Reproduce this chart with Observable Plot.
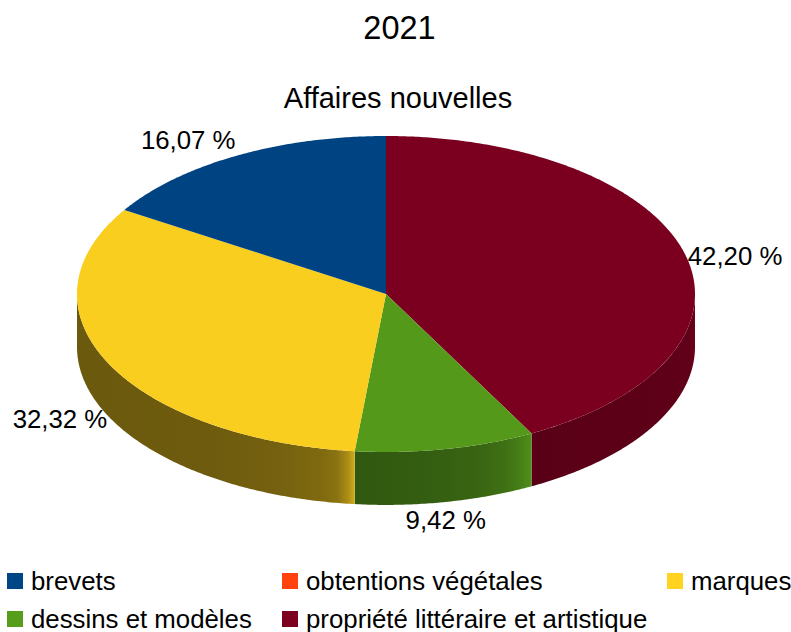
<!DOCTYPE html>
<html lang="fr">
<head>
<meta charset="utf-8">
<title>2021 - Affaires nouvelles</title>
<script src="https://cdn.jsdelivr.net/npm/d3@7"></script>
<script src="https://cdn.jsdelivr.net/npm/@observablehq/plot@0.6"></script>
<style>
  html, body { margin: 0; padding: 0; background: #fff; }
  body { width: 791px; height: 632px; overflow: hidden; font-family: "Liberation Sans", Arial, sans-serif; color: #000; }
  #title { font-size: 32.5px; line-height: 56px; height: 56px; text-align: center; padding-left: 8px; font-weight: 400; margin: 0; }
  #subtitle { font-size: 29px; line-height: 44px; height: 44px; margin: 20px 0 5px 0; text-align: center; padding-left: 5px; font-weight: 400; }
  #chart svg { display: block; }
  #legend { display: grid; grid-template-columns: 275px 385px auto; padding: 5px 0 0 7px; font-size: 25.8px; line-height: 38px; }
  #legend div { display: flex; align-items: center; white-space: nowrap; }
  #legend i { display: block; width: 16px; height: 16px; margin-right: 8px; flex: none; }
</style>
</head>
<body>
<h1 id="title">2021</h1>
<h2 id="subtitle">Affaires nouvelles</h2>
<div id="chart"></div>
<div id="legend"></div>
<script>
// Data, in legend order
const categories = ["brevets", "obtentions végétales", "marques", "dessins et modèles", "propriété littéraire et artistique"];
const shares = [16.07, 0, 32.32, 9.42, 42.20];
const colors = ["#004586", "#ff420e", "#ffd320", "#579d1c", "#7e0021"];

// Styling: label placement and the shading of the pie's rim, by angle in degrees from 12 o'clock
const labelAnchor = {"brevets": "end", "marques": "end", "dessins et modèles": "middle", "propriété littéraire et artistique": "start"};
const topShade = 0.975;
const rimShade = {
  "propriété littéraire et artistique": [[90, 0.87], [100, 0.78], [115, 0.74], [151.9, 0.71]],
  "dessins et modèles": [[151.9, 0.92], [154, 0.82], [157, 0.72], [162, 0.65], [172, 0.6], [185.8, 0.56]],
  "marques": [[185.8, 0.82], [187, 0.68], [189, 0.55], [192, 0.5], [200, 0.46], [215, 0.43], [270, 0.42]]
};
const depth = 0.335; // pie thickness in units of the y radius

const rad = d => d * Math.PI / 180;
const total = d3.sum(shares);
const shade = (c, k) => { const r = d3.rgb(c); return d3.rgb(r.r * k, r.g * k, r.b * k).formatHex(); };

// Slices run clockwise from 12 o'clock, last legend entry first
let a0 = 0;
const slices = categories.map((name, i) => ({name, share: shares[i], color: colors[i], index: i})).reverse()
  .filter(d => d.share > 0)
  .map(d => { const s = {...d, a0, a1: a0 + d.share / total * 360}; a0 = s.a1; return s; });

function arc(from, to, drop) {
  const n = Math.max(2, Math.ceil(Math.abs(to - from) / 0.5)), pts = [];
  for (let i = 0; i <= n; ++i) {
    const t = from + (to - from) * i / n;
    pts.push({x: Math.sin(rad(t)), y: Math.cos(rad(t)) - drop});
  }
  return pts;
}

const topMarks = slices.map(s => Plot.line([{x: 0, y: 0}, ...arc(s.a0, s.a1, 0)],
  {x: "x", y: "y", fill: shade(s.color, topShade), curve: "linear-closed"}));

const rims = slices.filter(s => Math.max(s.a0, 90) < Math.min(s.a1, 270)).map(s => {
  const lo = Math.max(s.a0, 90), hi = Math.min(s.a1, 270);
  const xs = [lo, hi, ...(lo < 180 && hi > 180 ? [180] : [])].map(a => Math.sin(rad(a)));
  const x0 = Math.min(...xs), x1 = Math.max(...xs);
  const stops = rimShade[s.name].map(([a, k]) => ({offset: (Math.sin(rad(a)) - x0) / (x1 - x0), color: shade(s.color, k)}))
    .sort((p, q) => p.offset - q.offset);
  return {id: `rim-${s.index}`, stops, pts: [...arc(lo, hi, 0), ...arc(hi, lo, depth)]};
});

const gradients = () => {
  const defs = d3.create("svg:defs");
  for (const r of rims) {
    const g = defs.append("linearGradient").attr("id", r.id).attr("x1", 0).attr("x2", 1).attr("y1", 0).attr("y2", 0);
    for (const s of r.stops) g.append("stop").attr("offset", s.offset).attr("stop-color", s.color);
  }
  return defs.node();
};
const rimMarks = rims.map(r => Plot.line(r.pts, {x: "x", y: "y", fill: `url(#${r.id})`, curve: "linear-closed"}));

const labels = slices.map(s => {
  const m = rad((s.a0 + s.a1) / 2), front = Math.cos(m) < 0;
  return {text: s.share.toFixed(2).replace(".", ",") + " %", anchor: labelAnchor[s.name], front,
          x: Math.sin(m), y: Math.cos(m) - (front ? depth : 0)};
});
const labelMark = (anchor, opts) => Plot.text(labels.filter(d => d.anchor === anchor),
  {x: "x", y: "y", text: "text", textAnchor: anchor, fontSize: 25.8, fontFamily: "Liberation Sans, Arial, sans-serif", fill: "#000", ...opts});

const plot = Plot.plot({
  width: 791, height: 432,
  marginTop: 0, marginRight: 0, marginBottom: 0, marginLeft: 0,
  x: {domain: [-1, 1], range: [76.5, 694.5], axis: null},
  y: {domain: [-1, 1], range: [326.5, 10.5], axis: null},
  style: {background: "#fff", overflow: "visible"},
  marks: [
    gradients,
    ...rimMarks,
    ...topMarks,
    labelMark("end", {dx: -1, dy: -7, filter: d => !d.front, lineAnchor: "bottom"}),
    labelMark("end", {dx: -1, dy: 4, filter: d => d.front}),
    labelMark("start", {dx: 2, dy: 1}),
    labelMark("middle", {dy: 19})
  ]
});
document.getElementById("chart").append(plot);

const legend = d3.select("#legend");
categories.forEach((name, i) => {
  const row = legend.append("div");
  row.append("i").style("background", colors[i]);
  row.append("span").text(name);
});
</script>
</body>
</html>
